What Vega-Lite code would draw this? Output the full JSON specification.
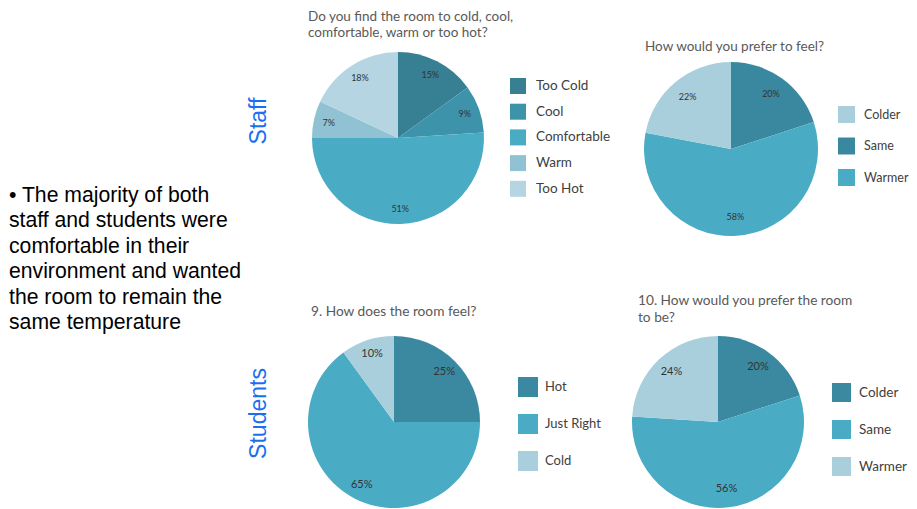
{
  "$schema": "https://vega.github.io/schema/vega-lite/v6.json",
  "padding": 0,
  "background": "white",
  "config": {
    "view": {"stroke": null},
    "title": {"fontWeight": "normal"}
  },
  "datasets": {
    "staffFeel": [
      {"answer": "Too Cold", "share": 0.15, "order": 1},
      {"answer": "Cool", "share": 0.09, "order": 2},
      {"answer": "Comfortable", "share": 0.51, "order": 3},
      {"answer": "Warm", "share": 0.07, "order": 4},
      {"answer": "Too Hot", "share": 0.18, "order": 5}
    ],
    "staffPrefer": [
      {"answer": "Same", "share": 0.20, "order": 1},
      {"answer": "Warmer", "share": 0.58, "order": 2},
      {"answer": "Colder", "share": 0.22, "order": 3}
    ],
    "studentFeel": [
      {"answer": "Hot", "share": 0.25, "order": 1},
      {"answer": "Just Right", "share": 0.65, "order": 2},
      {"answer": "Cold", "share": 0.10, "order": 3}
    ],
    "studentPrefer": [
      {"answer": "Colder", "share": 0.20, "order": 1},
      {"answer": "Same", "share": 0.56, "order": 2},
      {"answer": "Warmer", "share": 0.24, "order": 3}
    ]
  },
  "columns": 3,
  "spacing": {"row": 43, "column": 59},
  "align": {"row": "each", "column": "none"},
  "bounds": "flush",
  "resolve": {"scale": {"color": "independent", "theta": "independent"}, "legend": {"color": "independent"}},
  "concat": [
    {
      "width": 248,
      "height": 242,
      "data": {"values": [{"group": "Staff"}]},
      "title": {"text": ["• The majority of both", "staff and students were", "comfortable in their", "environment and wanted", "the room to remain the", "same temperature"], "orient": "bottom", "anchor": "start", "frame": "group", "offset": -40.3, "baseline": "alphabetic", "dx": 9, "font": "Liberation Sans", "fontSize": 21.2, "lineHeight": 25.5, "color": "#000000"},
      "mark": {"type": "text", "angle": 270, "align": "center", "baseline": "top", "font": "Liberation Sans", "fontSize": 23, "color": "#1a6ff0"},
      "encoding": {"x": {"value": "width"}, "text": {"field": "group", "type": "nominal"}}
    },
    {
      "width": 182,
      "height": 276,
      "data": {"name": "staffFeel"},
      "title": {"text": ["Do you find the room to cold, cool,", "comfortable, warm or too hot?"], "anchor": "start", "frame": "group", "orient": "top", "offset": -50.7, "baseline": "alphabetic", "lineHeight": 16, "font": "Lato", "fontSize": 13.5, "color": "#595959", "dx": 1},
      "encoding": {
        "theta": {"field": "share", "type": "quantitative", "stack": true},
        "order": {"field": "order", "type": "quantitative"}
      },
      "layer": [
        {
          "mark": {"type": "arc", "radius": 86},
          "encoding": {
            "color": {
              "field": "answer", "type": "nominal",
              "scale": {"domain": ["Too Cold", "Cool", "Comfortable", "Warm", "Too Hot"], "range": ["#377f93", "#3d93a9", "#4aabc5", "#91c2d4", "#b4d5e1"]},
              "legend": {"title": null, "orient": "none", "legendX": 203, "legendY": 78, "padding": 0, "symbolType": "square", "symbolSize": 256, "symbolStrokeWidth": 0, "symbolOpacity": 1, "rowPadding": 9.7, "labelOffset": 10, "labelFont": "Lato", "labelFontSize": 13.5, "labelColor": "#404040"}
            }
          }
        },
        {
          "mark": {"type": "text", "radius": 71, "font": "Lato", "fontSize": 9, "color": "#333333"},
          "encoding": {"text": {"field": "share", "type": "quantitative", "format": ".0%"}}
        }
      ]
    },
    {
      "width": 366,
      "height": 298,
      "data": {"name": "staffPrefer"},
      "title": {"text": "How would you prefer to feel?", "anchor": "start", "frame": "group", "orient": "top", "offset": -64.3, "baseline": "alphabetic", "font": "Lato", "fontSize": 13.5, "color": "#595959", "dx": 97},
      "encoding": {
        "theta": {"field": "share", "type": "quantitative", "stack": true},
        "order": {"field": "order", "type": "quantitative"}
      },
      "layer": [
        {
          "mark": {"type": "arc", "radius": 87},
          "encoding": {
            "color": {
              "field": "answer", "type": "nominal",
              "scale": {"domain": ["Colder", "Same", "Warmer"], "range": ["#a9cfdc", "#3a88a0", "#4aabc5"]},
              "legend": {"title": null, "orient": "none", "legendX": 290, "legendY": 106, "padding": 0, "symbolType": "square", "symbolSize": 289, "symbolStrokeWidth": 0, "symbolOpacity": 1, "rowPadding": 14.5, "labelOffset": 9, "labelFont": "Lato", "labelFontSize": 12.5, "labelColor": "#404040"}
            }
          }
        },
        {
          "mark": {"type": "text", "radius": 68, "font": "Lato", "fontSize": 9, "color": "#333333"},
          "encoding": {"text": {"field": "share", "type": "quantitative", "format": ".0%"}}
        }
      ]
    },
    {
      "width": 248,
      "height": 145,
      "data": {"values": [{"group": "Students"}]},
      "mark": {"type": "text", "angle": 270, "align": "center", "baseline": "top", "font": "Liberation Sans", "fontSize": 23, "color": "#1a6ff0"},
      "encoding": {"x": {"value": "width"}, "text": {"field": "group", "type": "nominal"}}
    },
    {
      "width": 174,
      "height": 162,
      "data": {"name": "studentFeel"},
      "title": {"text": "9. How does the room feel?", "anchor": "start", "frame": "group", "orient": "top", "offset": 6.5, "baseline": "alphabetic", "font": "Lato", "fontSize": 13.7, "color": "#595959", "dx": 4},
      "encoding": {
        "theta": {"field": "share", "type": "quantitative", "stack": true},
        "order": {"field": "order", "type": "quantitative"}
      },
      "layer": [
        {
          "mark": {"type": "arc", "radius": 86},
          "encoding": {
            "color": {
              "field": "answer", "type": "nominal",
              "scale": {"domain": ["Hot", "Just Right", "Cold"], "range": ["#3b89a0", "#4aabc5", "#a9cfdc"]},
              "legend": {"title": null, "orient": "none", "legendX": 211, "legendY": 36, "padding": 0, "symbolType": "square", "symbolSize": 400, "symbolStrokeWidth": 0, "symbolOpacity": 1, "rowPadding": 17, "labelOffset": 7, "labelFont": "Lato", "labelFontSize": 13, "labelColor": "#404040"}
            }
          }
        },
        {
          "mark": {"type": "text", "radius": 71, "font": "Lato", "fontSize": 11, "color": "#333333"},
          "encoding": {"text": {"field": "share", "type": "quantitative", "format": ".0%"}}
        }
      ]
    },
    {
      "width": 340,
      "height": 162,
      "data": {"name": "studentPrefer"},
      "title": {"text": ["10. How would you prefer the room", "to be?"], "anchor": "start", "frame": "group", "orient": "top", "offset": 0.5, "baseline": "alphabetic", "lineHeight": 16.7, "font": "Lato", "fontSize": 13.7, "color": "#595959", "dx": 90},
      "encoding": {
        "theta": {"field": "share", "type": "quantitative", "stack": true},
        "order": {"field": "order", "type": "quantitative"}
      },
      "layer": [
        {
          "mark": {"type": "arc", "radius": 86},
          "encoding": {
            "color": {
              "field": "answer", "type": "nominal",
              "scale": {"domain": ["Colder", "Same", "Warmer"], "range": ["#3b89a0", "#4aabc5", "#a9cfdc"]},
              "legend": {"title": null, "orient": "none", "legendX": 284, "legendY": 42, "padding": 0, "symbolType": "square", "symbolSize": 361, "symbolStrokeWidth": 0, "symbolOpacity": 1, "rowPadding": 18, "labelOffset": 8, "labelFont": "Lato", "labelFontSize": 13.5, "labelColor": "#404040"}
            }
          }
        },
        {
          "mark": {"type": "text", "radius": 68, "font": "Lato", "fontSize": 11, "color": "#333333"},
          "encoding": {"text": {"field": "share", "type": "quantitative", "format": ".0%"}}
        }
      ]
    }
  ]
}
